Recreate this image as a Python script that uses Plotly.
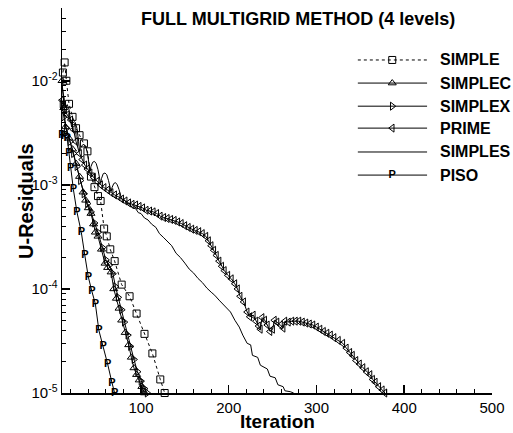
import plotly.graph_objects as go

# ---------------- data ----------------
iter_simple = [11, 13, 15, 18, 22, 26, 30, 35, 39, 43, 47, 51, 54, 58, 61, 65, 70, 78, 87, 95, 104, 113, 122, 127]
res_simple = [1.2e-2, 1.5e-2, 1.0e-2, 6.0e-3, 4.5e-3, 3.5e-3, 3.0e-3, 2.5e-3, 2.1e-3, 1.2e-3, 9.5e-4, 7.8e-4,
              7.0e-4, 3.8e-4, 3.2e-4, 2.4e-4, 1.85e-4, 1.1e-4, 8.5e-5, 5.8e-5, 3.7e-5, 2.4e-5, 1.35e-5, 1.0e-5]

iter_simplec = [10, 12, 14, 18, 22, 26, 30, 34, 37, 40, 43, 46, 48, 51, 55, 59, 62, 66, 69, 72, 75, 78, 82, 86,
                89, 92, 95, 98, 101, 104]
res_simplec = [1.0e-2, 5.5e-3, 3.6e-3, 2.8e-3, 2.2e-3, 1.6e-3, 1.2e-3, 8.5e-4, 7.1e-4, 6.0e-4, 5.3e-4, 4.2e-4,
               3.5e-4, 3.2e-4, 2.4e-4, 1.76e-4, 1.6e-4, 1.45e-4, 1.0e-4, 8.1e-5, 6.5e-5, 5.0e-5, 3.8e-5, 2.9e-5,
               2.2e-5, 1.74e-5, 1.5e-5, 1.33e-5, 1.15e-5, 1.0e-5]

iter_simplex = [10, 12, 15, 19, 23, 27, 31, 35, 39, 43, 47, 51, 56, 60, 64, 68, 71, 74, 78, 81, 85, 88, 92, 96,
                100, 104, 107]
res_simplex = [6.0e-3, 4.5e-3, 3.5e-3, 2.6e-3, 2.0e-3, 1.5e-3, 1.1e-3, 8.2e-4, 6.6e-4, 5.5e-4, 4.3e-4, 3.5e-4,
               2.5e-4, 1.9e-4, 1.7e-4, 1.4e-4, 1.05e-4, 8.3e-5, 6.3e-5, 4.8e-5, 3.6e-5, 2.8e-5, 2.1e-5, 1.6e-5,
               1.3e-5, 1.1e-5, 1.0e-5]

iter_prime = [10, 13, 16, 20, 23, 26, 30, 33, 36, 39, 42, 46, 50, 54, 58, 62, 66, 70, 74, 78, 82, 86, 90, 94, 98,
              102, 106, 110, 114, 118, 122, 126, 130, 134, 138, 142, 146, 150, 154, 158, 162, 166, 170, 174, 177,
              180, 183, 186, 189, 192, 195, 199, 203, 207, 210, 213, 217, 221, 224, 228, 231, 234, 236, 238, 241,
              244, 247, 250, 252, 255, 259, 262, 264, 268, 272, 276, 280, 284, 288, 292, 296, 300, 304, 308, 312,
              316, 320, 325, 330, 334, 338, 341, 345, 349, 353, 357, 361, 364, 367, 371, 375, 378]
res_prime = [6.5e-3, 5.3e-3, 4.7e-3, 4.2e-3, 3.4e-3, 2.6e-3, 2.0e-3, 1.75e-3, 1.55e-3, 1.42e-3, 1.3e-3, 1.18e-3,
             1.08e-3, 1.0e-3, 9.4e-4, 8.9e-4, 8.4e-4, 8.0e-4, 7.7e-4, 7.3e-4, 7.0e-4, 6.7e-4, 6.5e-4, 6.4e-4,
             6.2e-4, 6.0e-4, 5.7e-4, 5.6e-4, 5.5e-4, 5.3e-4, 5.0e-4, 4.85e-4, 4.75e-4, 4.65e-4, 4.55e-4, 4.4e-4,
             4.25e-4, 4.05e-4, 3.9e-4, 3.75e-4, 3.65e-4, 3.55e-4, 3.4e-4, 3.2e-4, 2.9e-4, 2.6e-4, 2.35e-4,
             2.1e-4, 1.85e-4, 1.65e-4, 1.5e-4, 1.35e-4, 1.25e-4, 1.12e-4, 1.0e-4, 8.5e-5, 7.5e-5, 6.0e-5, 5.4e-5,
             5.6e-5, 4.9e-5, 4.4e-5, 4.1e-5, 5.3e-5, 5.0e-5, 4.5e-5, 3.9e-5, 4.1e-5, 5.0e-5, 4.8e-5, 4.5e-5,
             4.2e-5, 4.9e-5, 4.8e-5, 4.9e-5, 4.9e-5, 4.9e-5, 4.8e-5, 4.7e-5, 4.6e-5, 4.5e-5, 4.3e-5, 4.1e-5,
             3.9e-5, 3.75e-5, 3.6e-5, 3.4e-5, 3.2e-5, 3.0e-5, 2.7e-5, 2.45e-5, 2.3e-5, 2.05e-5, 1.9e-5, 1.75e-5,
             1.6e-5, 1.5e-5, 1.35e-5, 1.27e-5, 1.15e-5, 1.07e-5, 1.0e-5]

iter_simples = [10, 12, 14, 16, 18, 20, 21, 22, 24, 25, 27, 29, 30, 31, 33, 35, 37, 39, 41, 42, 43, 45, 47, 49,
                51, 53, 54, 55, 57, 59, 61, 63, 65, 66, 67, 69, 71, 73, 75, 77, 78, 81, 84, 87, 90, 94, 97, 100,
                104, 108, 112, 117, 121, 126, 131, 135, 140, 145, 150, 155, 160, 165, 170, 175, 180, 184, 189,
                193, 198, 202, 207, 212, 216, 221, 225, 227, 233, 236, 244, 247, 253, 256, 262, 264, 270, 274]
res_simples = [9.0e-3, 7.0e-3, 5.5e-3, 5.9e-3, 5.3e-3, 4.0e-3, 3.6e-3, 3.9e-3, 4.05e-3, 4.0e-3, 3.5e-3, 2.6e-3,
               2.1e-3, 2.25e-3, 2.4e-3, 2.45e-3, 2.35e-3, 2.0e-3, 1.55e-3, 1.35e-3, 1.5e-3, 1.65e-3, 1.68e-3,
               1.6e-3, 1.4e-3, 1.15e-3, 1.03e-3, 1.15e-3, 1.28e-3, 1.3e-3, 1.25e-3, 1.1e-3, 9.2e-4, 8.6e-4,
               9.4e-4, 1.03e-3, 1.05e-3, 1.0e-3, 9.0e-4, 7.8e-4, 7.3e-4, 7.2e-4, 6.6e-4, 6.6e-4, 6.0e-4, 5.9e-4,
               5.4e-4, 5.3e-4, 4.8e-4, 4.6e-4, 4.2e-4, 3.9e-4, 3.4e-4, 3.1e-4, 2.8e-4, 2.6e-4, 2.2e-4, 2.0e-4,
               1.77e-4, 1.55e-4, 1.42e-4, 1.26e-4, 1.15e-4, 1.02e-4, 9.3e-5, 8.7e-5, 7.8e-5, 7.2e-5, 6.5e-5,
               6.0e-5, 5.0e-5, 4.3e-5, 3.6e-5, 3.0e-5, 2.9e-5, 2.3e-5, 2.2e-5, 1.85e-5, 1.7e-5, 1.45e-5, 1.4e-5,
               1.2e-5, 1.15e-5, 1.05e-5, 1.03e-5, 1.0e-5]

iter_piso = [10, 13, 16, 18, 20, 23, 27, 32, 36, 40, 44, 48, 52, 57, 62, 67, 70]
res_piso = [3.0e-3, 2.9e-3, 2.8e-3, 2.0e-3, 1.45e-3, 9.0e-4, 5.5e-4, 3.5e-4, 2.1e-4, 1.3e-4, 9.5e-5, 7.2e-5,
            4.0e-5, 2.8e-5, 1.9e-5, 1.25e-5, 1.0e-5]

series_names = ["SIMPLE", "SIMPLEC", "SIMPLEX", "PRIME", "SIMPLES", "PISO"]

x_tick_vals = [100, 200, 300, 400, 500]
x_minor_vals = [v for v in range(20, 500, 20) if v % 100 != 0]
y_tick_vals = [1e-5, 1e-4, 1e-3, 1e-2]
y_tick_text = ["10<sup>-5</sup>", "10<sup>-4</sup>", "10<sup>-3</sup>", "10<sup>-2</sup>"]
y_minor_vals = [m * 10 ** e for e in (-5, -4, -3) for m in range(2, 10)] + [2e-2, 3e-2, 4e-2]

title_text = "FULL MULTIGRID METHOD (4 levels)"
x_title = "Iteration"
y_title = "U-Residuals"

# ---------------- styles ----------------
FONT = "Liberation Sans, Arial, Helvetica, sans-serif"
BLACK = "#000000"
styles = {
    "SIMPLE": dict(dash="dot", symbol="square-open", text=None),
    "SIMPLEC": dict(dash="solid", symbol="triangle-up-open", text=None),
    "SIMPLEX": dict(dash="solid", symbol="triangle-right-open", text=None),
    "PRIME": dict(dash="solid", symbol="triangle-left-open", text=None),
    "SIMPLES": dict(dash="solid", symbol=None, text=None),
    "PISO": dict(dash="solid", symbol=None, text="P"),
}
data = {
    "SIMPLE": (iter_simple, res_simple),
    "SIMPLEC": (iter_simplec, res_simplec),
    "SIMPLEX": (iter_simplex, res_simplex),
    "PRIME": (iter_prime, res_prime),
    "SIMPLES": (iter_simples, res_simples),
    "PISO": (iter_piso, res_piso),
}

fig = go.Figure()


def add_series(xs, ys, st, xaxis="x", yaxis="y", marker_only=False, line_only=False):
    if st["symbol"] is not None and not line_only:
        mode = "markers" if marker_only else "lines+markers"
    elif st["text"] is not None and not line_only:
        mode = "text" if marker_only else "lines+text"
    else:
        mode = "lines"
    kw = dict(x=xs, y=ys, mode=mode, xaxis=xaxis, yaxis=yaxis, showlegend=False,
              cliponaxis=False, hoverinfo="skip")
    if "lines" in mode:
        kw["line"] = dict(color=BLACK, width=1, dash=st["dash"])
    if "markers" in mode:
        kw["marker"] = dict(symbol=st["symbol"], size=7, color=BLACK, line=dict(color=BLACK, width=1))
    if "text" in mode:
        kw["text"] = [st["text"]] * len(xs)
        kw["textposition"] = "middle center"
        kw["textfont"] = dict(family=FONT, size=11, color=BLACK, weight="bold")
    fig.add_trace(go.Scatter(**kw))


for name in series_names:
    xs, ys = data[name]
    add_series(xs, ys, styles[name])

# ---------------- hand-drawn legend (layout positions) ----------------
leg_x0, leg_x1, leg_xm, leg_tx = 0.688, 0.849, 0.768, 0.874
leg_rows = [0.865, 0.805, 0.745, 0.688, 0.626, 0.566]
annotations = []
for name, yy in zip(series_names, leg_rows):
    st = styles[name]
    add_series([leg_x0, leg_x1], [yy, yy], st, xaxis="x2", yaxis="y2", line_only=True)
    if st["symbol"] is not None or st["text"] is not None:
        add_series([leg_xm], [yy], st, xaxis="x2", yaxis="y2", marker_only=True)
    annotations.append(dict(x=leg_tx, y=yy, xref="paper", yref="paper", xanchor="left", yanchor="middle",
                            text="<b>%s</b>" % name, showarrow=False,
                            font=dict(family=FONT, size=16, color=BLACK)))

annotations += [
    dict(x=0.548, y=0.971, xref="paper", yref="paper", xanchor="center", yanchor="middle",
         text="<b>%s</b>" % title_text, showarrow=False, font=dict(family=FONT, size=18, color=BLACK)),
    dict(x=0.5, y=-0.073, xref="paper", yref="paper", xanchor="center", yanchor="middle",
         text="<b>%s</b>" % x_title, showarrow=False, font=dict(family=FONT, size=19, color=BLACK)),
    dict(x=-0.085, y=0.50, xref="paper", yref="paper", xanchor="center", yanchor="middle", textangle=-90,
         text="<b>%s</b>" % y_title, showarrow=False, font=dict(family=FONT, size=20, color=BLACK)),
]

fig.update_layout(
    width=513, height=433,
    margin=dict(l=62, r=15, t=8, b=40),
    paper_bgcolor="white", plot_bgcolor="white",
    font=dict(family=FONT, size=15, color=BLACK),
    annotations=annotations,
    xaxis=dict(range=[10, 500], showline=True, linecolor=BLACK, linewidth=1.5, mirror=False,
               ticks="inside", ticklen=8, tickwidth=1.5, tickcolor=BLACK,
               tickvals=x_tick_vals, showgrid=False, zeroline=False,
               tickfont=dict(family=FONT, size=15, color=BLACK),
               minor=dict(ticks="inside", ticklen=4, tickwidth=1, tickcolor=BLACK, tickvals=x_minor_vals,
                          showgrid=False)),
    yaxis=dict(type="log", range=[-5, -1.301], showline=True, linecolor=BLACK, linewidth=1.5,
               ticks="inside", ticklen=8, tickwidth=1.5, tickcolor=BLACK,
               tickvals=y_tick_vals, ticktext=y_tick_text, showgrid=False, zeroline=False,
               tickfont=dict(family=FONT, size=15, color=BLACK),
               minor=dict(ticks="inside", ticklen=4, tickwidth=1, tickcolor=BLACK, tickvals=y_minor_vals,
                          showgrid=False)),
    xaxis2=dict(overlaying="x", anchor="y2", range=[0, 1], visible=False, fixedrange=True),
    yaxis2=dict(overlaying="y", anchor="x2", range=[0, 1], visible=False, fixedrange=True),
)

page_fix = ("document.documentElement.style.margin='0';document.body.style.margin='0';"
            "document.body.style.padding='0';document.body.style.overflow='hidden';")
fig.write_html("out.html", post_script=page_fix,
               config={"displayModeBar": False, "staticPlot": True})
